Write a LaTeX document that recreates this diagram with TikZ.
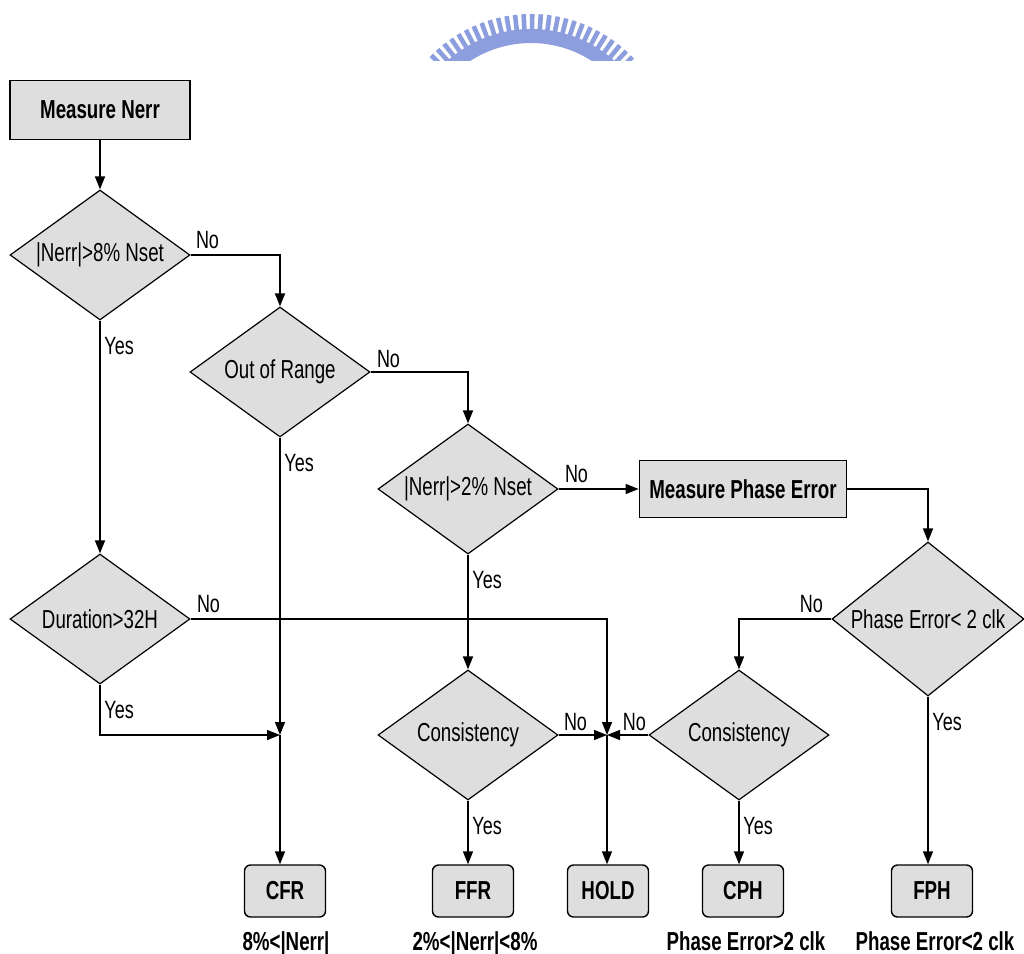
\documentclass[tikz,border=0pt]{standalone}
\usepackage{fontspec}
\setmainfont{Liberation Sans}[FakeStretch=0.72]
\usetikzlibrary{shapes.geometric,arrows.meta,calc}
\definecolor{sealblue}{RGB}{140,158,222}
\begin{document}
\begin{tikzpicture}[x=0.5pt,y=-0.5pt,
  every node/.style={font=\fontsize{13}{15}\selectfont, inner sep=0pt},
  decision/.style={diamond, draw=black, line width=0.6pt, fill=black!13,
    minimum width=90pt, minimum height=65pt, aspect=1.38},
  proc/.style={rectangle, draw=black, line width=0.9pt, fill=black!13,
    font=\fontsize{13}{15}\selectfont\bfseries},
  state/.style={rectangle, rounded corners=3pt, draw=black, line width=0.7pt,
    fill=black!13, minimum width=40.5pt, minimum height=26pt,
    font=\fontsize{13}{15}\selectfont\bfseries},
  flow/.style={draw=black, line width=0.7pt, -{Triangle[length=6.5pt,width=5pt]}},
  lbl/.style={font=\fontsize{12.5}{15}\selectfont},
  note/.style={font=\fontsize{13}{15}\selectfont\bfseries, anchor=base},
  seal/.style={fill=sealblue},
]
\useasboundingbox (0,0) rectangle (1024,954);
\fill[white] (0,0) rectangle (1024,954);

% seal emblem at the top
\begin{scope}
  \clip (0,0) rectangle (1024,60);
  \begin{scope}[shift={(531,155)}, x=0.5pt, y=0.5pt]
    \foreach \a in {-46,-42.5,...,46}
      \fill[seal, rotate=\a] (-2.3,125) rectangle (2.3,141);
    \fill[seal] (40:112) arc[start angle=40,end angle=140,radius=112]
      -- (140:126) arc[start angle=140,end angle=40,radius=126] -- cycle;
  \end{scope}
\end{scope}

% process boxes and decisions
\node[proc, minimum width=90pt, minimum height=29.5pt] (m1) at (100,110) {Measure Nerr};
\node[decision] (d1) at (100,255) {|Nerr|>8\% Nset};
\node[decision] (d2) at (280,372) {Out of Range};
\node[decision] (d3) at (468,489) {|Nerr|>2\% Nset};
\node[proc, minimum width=103.5pt, minimum height=28.5pt] (mp) at (743,489) {Measure Phase Error};
\node[decision, minimum width=96pt, minimum height=77pt, aspect=1.25] (d4) at (928,619) {Phase Error< 2 clk};
\node[decision] (d7) at (100,619) {Duration>32H};
\node[decision] (d6) at (468,735) {Consistency};
\node[decision] (d5) at (739,735) {Consistency};
\coordinate (j1) at (280,735);
\coordinate (j2) at (607,735);

% end states
\node[state] (cfr) at (285,891) {CFR};
\node[state] (ffr) at (473,891) {FFR};
\node[state] (hold) at (608,891) {HOLD};
\node[state] (cph) at (743,891) {CPH};
\node[state] (fph) at (932,891) {FPH};

\node[note] (n1) at (286,950) {8\%<|Nerr|};
\node[note] (n2) at (475,950) {2\%<|Nerr|<8\%};
\node[note] (n3) at (746,950) {Phase Error>2 clk};
\node[note] (n4) at (935,950) {Phase Error<2 clk};

% connectors
\draw[flow] (m1) -- (d1);
\draw[flow] (d1.east) -| (d2.north);
\draw[flow] (d2.east) -| (d3.north);
\draw[flow] (d3.east) -- (mp.west);
\draw[flow] (mp.east) -| (d4.north);
\draw[flow] (d4.west) -| (d5.north);
\draw[flow] (d1.south) -- (d7.north);
\draw[flow] (d3.south) -- (d6.north);
\draw[flow] (d2.south) -- (j1);
\draw[flow] (d7.south) |- (j1);
\draw[flow] (d7.east) -| (j2);
\draw[flow] (d6.east) -- (j2);
\draw[flow] (d5.west) -- (j2);
\draw[flow] (j1) -- (j1 |- cfr.north);
\draw[flow] (d6.south) -- (d6.south |- ffr.north);
\draw[flow] (j2) -- (j2 |- hold.north);
\draw[flow] (d5.south) -- (d5.south |- cph.north);
\draw[flow] (d4.south) -- (d4.south |- fph.north);

% branch labels
\node[lbl, anchor=base west] (no1) at ($(d1.east)+(5,-7)$) {No};
\node[lbl, anchor=base west] (no2) at ($(d2.east)+(6,-5)$) {No};
\node[lbl, anchor=base west] (no3) at ($(d3.east)+(6,-7)$) {No};
\node[lbl, anchor=base east] (no4) at ($(d4.west)+(-8,-7)$) {No};
\node[lbl, anchor=base west] (no7) at ($(d7.east)+(6,-7)$) {No};
\node[lbl, anchor=base west] (no6) at ($(d6.east)+(5,-5)$) {No};
\node[lbl, anchor=base east] (no5) at ($(d5.west)+(-2,-5)$) {No};
\node[lbl, anchor=base west] (ye1) at ($(d1.south)+(4,34)$) {Yes};
\node[lbl, anchor=base west] (ye2) at ($(d2.south)+(4,34)$) {Yes};
\node[lbl, anchor=base west] (ye3) at ($(d3.south)+(4,34)$) {Yes};
\node[lbl, anchor=base west] (ye4) at ($(d4.south)+(4,34)$) {Yes};
\node[lbl, anchor=base west] (ye7) at ($(d7.south)+(4,34)$) {Yes};
\node[lbl, anchor=base west] (ye6) at ($(d6.south)+(4,34)$) {Yes};
\node[lbl, anchor=base west] (ye5) at ($(d5.south)+(4,34)$) {Yes};
\end{tikzpicture}
\end{document}
